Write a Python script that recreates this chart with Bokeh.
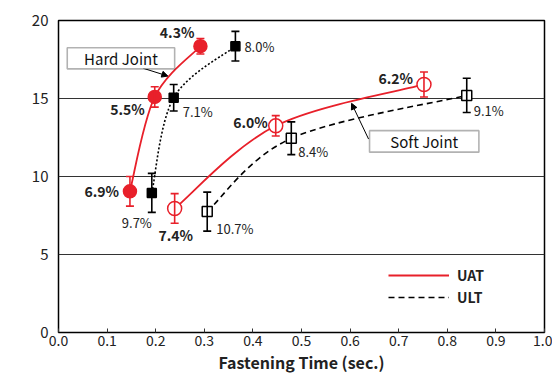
import numpy as np
from bokeh.plotting import figure
from bokeh.models import (ColumnDataSource, Whisker, TeeHead, Label, BoxAnnotation,
                          Arrow, NormalHead, Legend, LegendItem, FixedTicker, NumeralTickFormatter)
from bokeh.embed import file_html
from bokeh.resources import INLINE

# ---- data ----
hard_uat_t = [0.147, 0.198, 0.292]
hard_uat_f = [9.05, 15.1, 18.35]
hard_uat_e = [0.95, 0.65, 0.5]
hard_uat_lbl = ["6.9%", "5.5%", "4.3%"]

hard_ult_t = [0.192, 0.237, 0.364]
hard_ult_f = [8.95, 15.05, 18.35]
hard_ult_e = [1.25, 0.85, 0.95]
hard_ult_lbl = ["9.7%", "7.1%", "8.0%"]

soft_uat_t = [0.239, 0.447, 0.752]
soft_uat_f = [7.95, 13.25, 15.9]
soft_uat_e = [0.95, 0.65, 0.8]
soft_uat_lbl = ["7.4%", "6.0%", "6.2%"]

soft_ult_t = [0.306, 0.479, 0.840]
soft_ult_f = [7.75, 12.45, 15.2]
soft_ult_e = [1.25, 1.05, 1.1]
soft_ult_lbl = ["10.7%", "8.4%", "9.1%"]

x_ticks = [round(0.1 * i, 1) for i in range(11)]
y_ticks = [0, 5, 10, 15, 20]

RED = "#e8202a"
FONT = "Noto Sans CJK JP"

p = figure(width=552, height=376, x_range=(0, 1), y_range=(0, 20),
           output_backend="svg", toolbar_location=None,
           min_border_left=58, min_border_right=8, min_border_top=20, min_border_bottom=36)
p.outline_line_color = "black"
p.outline_line_width = 1.5
p.xgrid.visible = False
p.ygrid.ticker = FixedTicker(ticks=[5, 10, 15])
p.ygrid.grid_line_color = "#333333"
p.ygrid.grid_line_width = 1.1
p.background_fill_color = "white"

p.xaxis.ticker = FixedTicker(ticks=x_ticks)
p.xaxis.formatter = NumeralTickFormatter(format="0.0")
p.yaxis.ticker = FixedTicker(ticks=y_ticks)
for ax in (p.xaxis[0], p.yaxis[0]):
    ax.axis_line_color = None
    ax.minor_tick_line_color = None
    ax.major_label_text_font = FONT
    ax.major_label_text_font_size = "14px"
    ax.major_label_text_color = "#222222"
    ax.major_label_standoff = 2
p.xaxis.major_tick_in = 4
p.xaxis.major_tick_out = 0
p.xaxis.major_tick_line_color = "#333333"
p.yaxis.major_tick_line_color = None
p.yaxis.major_label_standoff = 4
p.yaxis.major_label_text_font_size = "15px"
p.xaxis.axis_label = "Fastening Time (sec.)"
p.xaxis.axis_label_text_font = FONT
p.xaxis.axis_label_text_font_size = "16px"
p.xaxis.axis_label_text_font_style = "bold"
p.xaxis.axis_label_text_color = "#222222"
p.xaxis.axis_label_standoff = 1


def bezier_parts(xs, ys):
    xs = np.asarray(xs, float); ys = np.asarray(ys, float)
    px = np.concatenate([[xs[0]], xs, [xs[-1]]])
    py = np.concatenate([[ys[0]], ys, [ys[-1]]])
    d = dict(x0=[], y0=[], x1=[], y1=[], cx0=[], cy0=[], cx1=[], cy1=[])
    for i in range(1, len(px) - 2):
        d["x0"].append(px[i]); d["y0"].append(py[i])
        d["x1"].append(px[i + 1]); d["y1"].append(py[i + 1])
        d["cx0"].append(px[i] + (px[i + 1] - px[i - 1]) / 6)
        d["cy0"].append(py[i] + (py[i + 1] - py[i - 1]) / 6)
        d["cx1"].append(px[i + 1] - (px[i + 2] - px[i]) / 6)
        d["cy1"].append(py[i + 1] - (py[i + 2] - py[i]) / 6)
    return ColumnDataSource(d)


def curve(xs, ys, color, dash, width):
    return p.bezier("x0", "y0", "x1", "y1", "cx0", "cy0", "cx1", "cy1",
                    source=bezier_parts(xs, ys), line_color=color,
                    line_dash=dash, line_width=width)


r_uat = curve(hard_uat_t, hard_uat_f, RED, "solid", 1.8)
curve(soft_uat_t, soft_uat_f, RED, "solid", 1.8)
curve(hard_ult_t, hard_ult_f, "black", "2 2", 1.6)
r_ult = curve(soft_ult_t, soft_ult_f, "black", "6 4", 1.6)


def errs(xs, ys, es, color):
    src = ColumnDataSource(dict(x=xs, lo=[y - e for y, e in zip(ys, es)],
                                hi=[y + e for y, e in zip(ys, es)]))
    w = Whisker(base="x", lower="lo", upper="hi", source=src, dimension="height",
                line_color=color, line_width=1.6,
                upper_head=TeeHead(size=8, line_color=color, line_width=1.6),
                lower_head=TeeHead(size=8, line_color=color, line_width=1.6),
                level="glyph")
    p.add_layout(w)


errs(hard_uat_t, hard_uat_f, hard_uat_e, RED)
errs(soft_uat_t, soft_uat_f, soft_uat_e, RED)
errs(hard_ult_t, hard_ult_f, hard_ult_e, "black")
errs(soft_ult_t, soft_ult_f, soft_ult_e, "black")

p.scatter(hard_uat_t, hard_uat_f, marker="circle", size=13, fill_color=RED, line_color=RED, line_width=1.5)
p.scatter(soft_uat_t, soft_uat_f, marker="circle", size=14, fill_color="white", line_color=RED, line_width=1.5)
p.scatter(hard_ult_t, hard_ult_f, marker="square", size=9, fill_color="black", line_color="black", line_width=1.5)
p.scatter(soft_ult_t, soft_ult_f, marker="square", size=10, fill_color="white", line_color="black", line_width=1.5)


def labels(xs, ys, texts, offsets, bold):
    for x, y, t, (dx, dy, al) in zip(xs, ys, texts, offsets):
        p.add_layout(Label(x=x, y=y, text=t, x_offset=dx, y_offset=dy, text_align=al,
                           text_baseline="middle", text_font=FONT,
                           text_font_size="14px" if bold else "13px",
                           text_font_style="bold" if bold else "normal",
                           text_color="#222222"))


labels(hard_uat_t, hard_uat_f, hard_uat_lbl, [(-11, 0, "right"), (-10, -12, "right"), (-6, 14, "right")], True)
labels(hard_ult_t, hard_ult_f, hard_ult_lbl, [(-15, -30, "center"), (9, -14, "left"), (9, 0, "left")], False)
labels(soft_uat_t, soft_uat_f, soft_uat_lbl, [(1, -27, "center"), (-8, 4, "right"), (-11, 6, "right")], True)
labels(soft_ult_t, soft_ult_f, soft_ult_lbl, [(9, -17, "left"), (7, -13, "left"), (7, -15, "left")], False)

# annotation boxes
for (l, r, b, t, txt) in [(0.018, 0.239, 16.9, 18.25, "Hard Joint"), (0.640, 0.865, 11.56, 12.94, "Soft Joint")]:
    p.add_layout(BoxAnnotation(left=l, right=r, bottom=b, top=t, fill_color="white", fill_alpha=1,
                               line_color="black", line_width=1.6, level="overlay"))
    p.add_layout(Label(x=(l + r) / 2, y=(b + t) / 2, text=txt, text_align="center",
                       text_baseline="middle", text_font=FONT, text_font_size="15px",
                       text_color="#111111", level="overlay"))

p.add_layout(Arrow(x_start=0.174, y_start=16.94, x_end=0.225, y_end=16.44, line_width=1,
                   end=NormalHead(size=6, fill_color="black", line_color="black", line_width=1)))
p.add_layout(Arrow(x_start=0.638, y_start=12.4, x_end=0.603, y_end=14.69, line_width=1,
                   end=NormalHead(size=6, fill_color="black", line_color="black", line_width=1)))

# y title and torque note
p.add_layout(Label(x=-0.078, y=8.75, text="Tension (kN)", angle=np.pi / 2, text_align="center",
                   text_baseline="middle", text_font=FONT, text_font_size="16px",
                   text_font_style="bold", text_color="#222222"))
p.add_layout(Label(x=-0.012, y=14.1, text="(25N·m)", text_align="right", text_baseline="middle",
                   text_font=FONT, text_font_size="10px", text_color="#333333"))

legend = Legend(items=[LegendItem(label="UAT", renderers=[r_uat]),
                       LegendItem(label="ULT", renderers=[r_ult])],
                location=(330, 25), padding=0, margin=0, spacing=2, glyph_width=61,
                glyph_height=20, label_standoff=8, border_line_color=None,
                background_fill_alpha=0, label_text_font=FONT, label_text_font_size="14px",
                label_text_font_style="bold", label_text_color="#222222")
p.add_layout(legend)

open("out.html", "w").write(file_html(p, INLINE))
